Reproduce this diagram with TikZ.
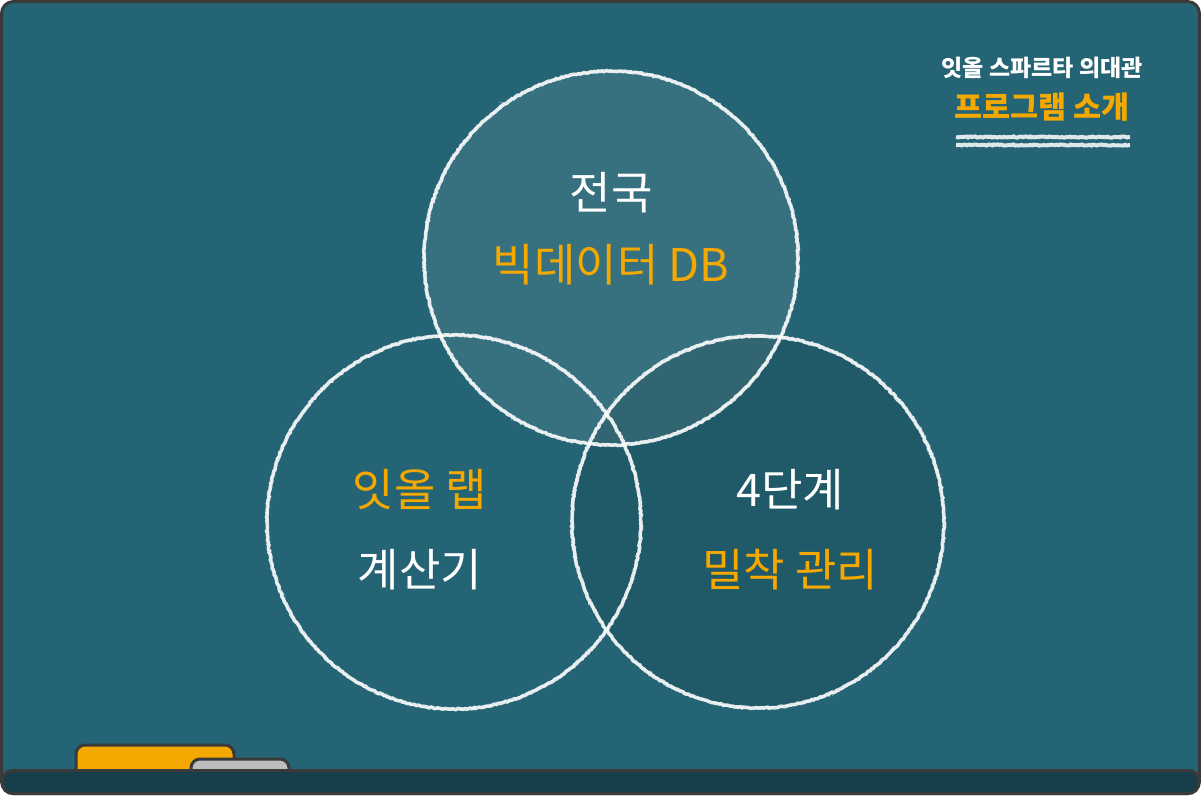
\documentclass[tikz,border=0pt]{standalone}
\usepackage{fontspec}
\newfontfamily\kr{Noto Sans CJK KR}
\usetikzlibrary{decorations.pathmorphing}
\definecolor{board}{HTML}{246474}
\definecolor{frame}{HTML}{3A3A3A}
\definecolor{tray}{HTML}{163F4B}
\definecolor{chalkorange}{HTML}{F5A800}
\definecolor{erasergray}{HTML}{BDBDBD}
\tikzset{
  chalk/.style={draw=white, line width=3.6pt, opacity=0.85,
    decorate, decoration={random steps, segment length=1.8pt, amplitude=0.6pt}},
  chalkfine/.style={draw=white, line width=1.2pt, opacity=0.55,
    decorate, decoration={random steps, segment length=1.5pt, amplitude=1.2pt}},
  hand/.style={font=\kr\fontsize{45}{50}\selectfont, inner sep=0pt},
  title/.style={font=\kr\bfseries\fontsize{23}{26}\selectfont, text=white, inner sep=0pt},
  subtitle/.style={font=\kr\bfseries\fontsize{30.5}{34}\selectfont, text=chalkorange, inner sep=0pt},
}
\begin{document}
\begin{tikzpicture}[x=1pt, y=-1pt]
\useasboundingbox (0,0) rectangle (1201,795);
% board
\draw[fill=board, draw=frame, line width=3pt, rounded corners=12pt] (1.5,1.5) rectangle (1199.5,793.5);
% circle fills
\fill[white, opacity=0.09] (611,258) circle (187);
\fill[black, opacity=0.1] (758,522) circle (186);
% circles
\coordinate (ct) at (611,258);
\coordinate (cl) at (454,522);
\coordinate (cr) at (758,522);
\foreach \c/\r in {ct/187, cl/187, cr/186}{
  \path[chalk] (\c) circle (\r);
  \path[chalkfine] (\c) circle (\r);
}
% texts
\node[hand, text=white] (t1) at (611,193) {전국};
\node[hand, text=chalkorange] (t2) at (611,265) {빅데이터 DB};
\node[hand, text=chalkorange] (l1) at (420,490) {잇올 랩};
\node[hand, text=white] (l2) at (420,570) {계산기};
\node[hand, text=white] (r1) at (790,490) {4단계};
\node[hand, text=chalkorange] (r2) at (790,570) {밀착 관리};
% title
\node[title] (h1) at (1042,68) {잇올 스파르타 의대관};
\node[subtitle] (h2) at (1042,107) {프로그램 소개};
\coordinate (u1a) at (956,137); \coordinate (u1b) at (1130,137);
\coordinate (u2a) at (956,145); \coordinate (u2b) at (1130,145);
\path[chalk, line width=4pt] (u1a) -- (u1b);
\path[chalk, line width=4pt] (u2a) -- (u2b);
% erasers
\draw[fill=chalkorange, draw=frame, line width=3pt, rounded corners=9pt] (76,745) rectangle (234,780);
\draw[fill=erasergray, draw=frame, line width=3pt, rounded corners=9pt] (191,759) rectangle (289,780);
% tray
\draw[fill=tray, draw=frame, line width=3pt, rounded corners=10pt] (2.5,770.5) rectangle (1198.5,793.5);
\end{tikzpicture}
\end{document}
